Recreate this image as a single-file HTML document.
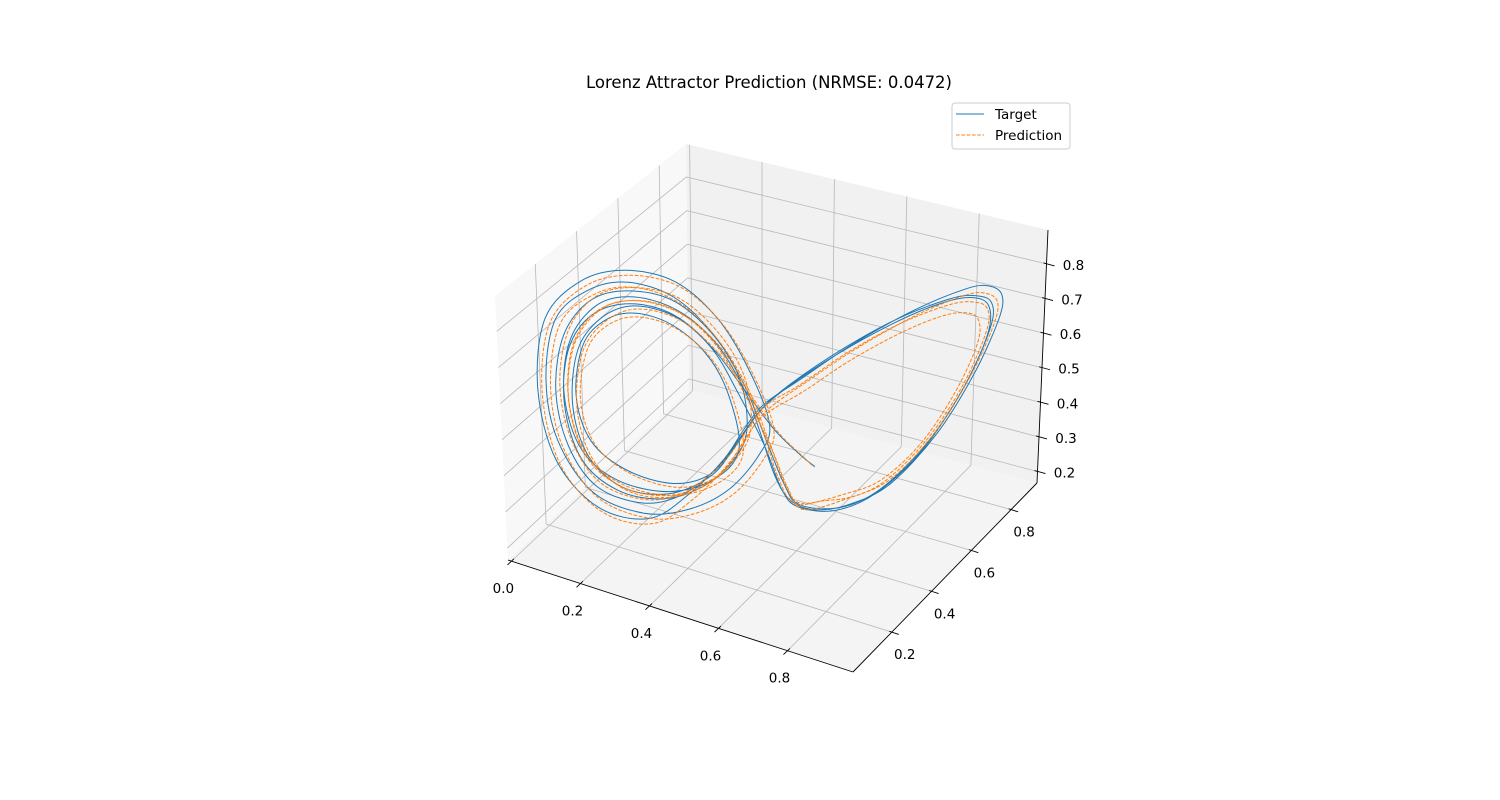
<!DOCTYPE html>
<html>
<head>
<meta charset="utf-8">
<style>
html,body{margin:0;padding:0;background:#fff;}
svg{display:block;}
text{font-family:"DejaVu Sans","Liberation Sans",sans-serif;}
</style>
</head>
<body>
<svg id="chart" width="1500" height="800" viewBox="0 0 1500 800" xmlns="http://www.w3.org/2000/svg">
  <rect x="0" y="0" width="1500" height="800" fill="#ffffff"/>
  <g id="panes"></g>
  <g id="grid"></g>
  <g id="axes"></g>
  <g id="ticks"></g>
  <g id="series"></g>
  <text x="769" y="88" font-size="16.5" text-anchor="middle" fill="#000">Lorenz Attractor Prediction (NRMSE: 0.0472)</text>
  <g>
    <rect x="952" y="103" width="118" height="46" rx="3" fill="#fff" stroke="#cccccc" stroke-width="1"/>
    <line x1="956" y1="114" x2="984" y2="114" stroke="#1f77b4" stroke-width="1"/>
    <text x="995" y="119" font-size="13.5" fill="#000">Target</text>
    <line x1="956" y1="135" x2="984" y2="135" stroke="#ff7f0e" stroke-width="1" stroke-dasharray="3.7,1.6"/>
    <text x="995" y="140" font-size="13.5" fill="#000">Prediction</text>
  </g>
</svg>
<script>
// ---- data ----
const xTicks = [0.0, 0.2, 0.4, 0.6, 0.8];
const yTicks = [0.2, 0.4, 0.6, 0.8];
const zTicks = [0.2, 0.3, 0.4, 0.5, 0.6, 0.7, 0.8];
const xTickLabels = ["0.0","0.2","0.4","0.6","0.8"];
const yTickLabels = ["0.2","0.4","0.6","0.8"];
const zTickLabels = ["0.2","0.3","0.4","0.5","0.6","0.7","0.8"];

const targetX = [0.425,0.376,0.306,0.221,0.155,0.130,0.146,0.187,0.240,0.306,0.369,0.410,0.429,0.382,0.297,0.202,0.136,0.108,0.123,0.174,0.240,0.319,0.388,0.439,0.467,0.495,0.524,
0.571,0.637,0.713,0.798,0.864,0.906,0.911,0.887,0.845,0.750,0.637,0.543,
0.476,0.439,0.401,0.335,0.259,0.164,0.089,0.060,0.079,0.146,0.227,0.316,0.391,0.448,0.486,0.467,0.410,0.335,0.250,0.155,0.093,0.076,0.098,0.161,0.231,0.312,0.382,0.439,0.476,0.514,0.543,
0.618,0.694,0.779,0.849,0.892,0.892,0.864,0.817,0.722,0.618,0.524,
0.471,0.433,0.391,0.325,0.250,0.164,0.112,0.093,0.112,0.164,0.234,0.316,0.388,0.433,0.444,0.420,0.363,0.287,0.202,0.136,0.108,0.119,0.164,0.233,0.312,0.380,0.429,0.476,0.509,0.539,
0.609,0.684,0.769,0.841,0.887,0.887,0.854,0.798,0.713,0.609,0.514,
0.463,0.425,0.376,0.297,0.212,0.149,0.123,0.136,0.180,0.240,0.316,0.382,0.439,0.495,0.543,0.571];
const targetY = [0.407,0.362,0.297,0.218,0.157,0.134,0.149,0.187,0.236,0.297,0.355,0.393,0.411,0.367,0.289,0.201,0.140,0.114,0.128,0.175,0.236,0.309,0.373,0.420,0.446,0.472,0.499,
0.542,0.603,0.674,0.752,0.813,0.852,0.857,0.834,0.796,0.708,0.603,0.516,
0.454,0.420,0.385,0.324,0.254,0.166,0.096,0.070,0.087,0.149,0.224,0.306,0.376,0.428,0.464,0.446,0.393,0.324,0.245,0.157,0.100,0.084,0.105,0.163,0.228,0.303,0.367,0.420,0.454,0.489,0.516,
0.586,0.656,0.735,0.799,0.839,0.839,0.813,0.770,0.682,0.586,0.499,
0.450,0.415,0.376,0.315,0.245,0.166,0.118,0.100,0.118,0.166,0.230,0.306,0.373,0.415,0.425,0.403,0.350,0.279,0.201,0.140,0.114,0.124,0.166,0.230,0.303,0.366,0.411,0.454,0.485,0.513,
0.577,0.647,0.725,0.792,0.834,0.834,0.804,0.752,0.674,0.577,0.489,
0.442,0.407,0.362,0.289,0.210,0.152,0.128,0.140,0.181,0.236,0.306,0.367,0.420,0.472,0.516,0.542];
const targetZ = [0.410,0.337,0.324,0.376,0.469,0.601,0.738,0.799,0.810,0.768,0.676,0.554,0.395,0.321,0.303,0.352,0.450,0.606,0.757,0.844,0.855,0.804,0.700,0.562,0.443,0.311,0.234,
0.196,0.196,0.236,0.358,0.512,0.658,0.727,0.760,0.761,0.720,0.646,0.568,
0.512,0.450,0.373,0.289,0.235,0.284,0.427,0.630,0.823,0.915,0.931,0.884,0.769,0.616,0.454,0.373,0.287,0.247,0.252,0.328,0.482,0.655,0.819,0.889,0.897,0.842,0.729,0.576,0.427,0.279,0.216,
0.191,0.225,0.334,0.487,0.641,0.711,0.737,0.739,0.703,0.636,0.558,
0.499,0.431,0.356,0.291,0.280,0.340,0.464,0.623,0.774,0.860,0.873,0.828,0.714,0.583,0.448,0.369,0.306,0.285,0.324,0.422,0.578,0.730,0.818,0.837,0.792,0.687,0.550,0.399,0.266,0.211,
0.185,0.214,0.313,0.466,0.620,0.704,0.734,0.729,0.691,0.624,0.546,
0.486,0.410,0.331,0.297,0.330,0.428,0.574,0.726,0.806,0.830,0.786,0.687,0.562,0.437,0.357,0.317];

const predX = [0.433,0.384,0.314,0.229,0.163,0.138,0.154,0.195,0.248,0.314,0.377,0.418,0.437,0.390,0.305,0.210,0.144,0.116,0.131,0.182,0.248,0.327,0.396,0.447,0.475,0.503,0.532,
0.584,0.645,0.716,0.795,0.856,0.895,0.900,0.877,0.838,0.750,0.645,0.557,
0.484,0.447,0.409,0.343,0.267,0.172,0.097,0.068,0.087,0.154,0.235,0.324,0.399,0.456,0.494,0.475,0.418,0.343,0.258,0.163,0.101,0.084,0.106,0.169,0.239,0.320,0.390,0.447,0.484,0.522,0.551,
0.627,0.698,0.777,0.842,0.882,0.882,0.856,0.812,0.724,0.627,0.540,
0.479,0.441,0.399,0.333,0.258,0.172,0.120,0.101,0.120,0.172,0.242,0.324,0.396,0.441,0.452,0.428,0.371,0.295,0.210,0.144,0.116,0.127,0.172,0.241,0.320,0.388,0.437,0.484,0.517,0.547,
0.630,0.694,0.766,0.827,0.866,0.866,0.838,0.791,0.719,0.630,0.549,
0.471,0.433,0.384,0.305,0.220,0.157,0.131,0.144,0.188,0.248,0.324,0.390,0.447,0.503,0.551,0.566];
const predY = [0.414,0.369,0.304,0.225,0.164,0.141,0.156,0.194,0.243,0.304,0.362,0.400,0.418,0.374,0.296,0.208,0.147,0.121,0.135,0.182,0.243,0.316,0.380,0.427,0.453,0.479,0.506,
0.561,0.618,0.683,0.756,0.813,0.849,0.854,0.832,0.796,0.715,0.618,0.536,
0.461,0.427,0.392,0.331,0.261,0.173,0.103,0.077,0.094,0.156,0.231,0.313,0.383,0.435,0.471,0.453,0.400,0.331,0.252,0.164,0.107,0.091,0.112,0.170,0.235,0.310,0.374,0.427,0.461,0.496,0.523,
0.601,0.667,0.740,0.800,0.837,0.837,0.813,0.772,0.691,0.601,0.521,
0.457,0.422,0.383,0.322,0.252,0.173,0.125,0.107,0.125,0.173,0.237,0.313,0.380,0.422,0.432,0.410,0.357,0.286,0.208,0.147,0.121,0.131,0.173,0.237,0.310,0.373,0.418,0.461,0.492,0.520,
0.604,0.663,0.730,0.786,0.822,0.822,0.796,0.753,0.686,0.604,0.529,
0.449,0.414,0.369,0.296,0.217,0.159,0.135,0.147,0.188,0.243,0.313,0.374,0.427,0.479,0.523,0.537];
const predZ = [0.398,0.325,0.312,0.364,0.457,0.589,0.726,0.787,0.798,0.756,0.664,0.542,0.383,0.309,0.291,0.340,0.438,0.594,0.745,0.832,0.843,0.792,0.688,0.550,0.431,0.299,0.222,
0.214,0.214,0.251,0.364,0.508,0.643,0.708,0.738,0.739,0.701,0.632,0.560,
0.497,0.435,0.358,0.274,0.220,0.269,0.412,0.615,0.808,0.900,0.916,0.869,0.754,0.601,0.439,0.358,0.272,0.232,0.237,0.313,0.467,0.640,0.804,0.874,0.882,0.827,0.714,0.561,0.412,0.264,0.201,
0.209,0.241,0.342,0.484,0.628,0.693,0.717,0.719,0.685,0.623,0.550,
0.507,0.439,0.364,0.299,0.288,0.348,0.472,0.631,0.782,0.868,0.881,0.836,0.722,0.591,0.456,0.377,0.314,0.293,0.332,0.430,0.586,0.738,0.826,0.845,0.800,0.695,0.558,0.407,0.274,0.219,
0.225,0.249,0.334,0.464,0.595,0.666,0.691,0.687,0.655,0.598,0.532,
0.476,0.400,0.321,0.287,0.320,0.418,0.564,0.716,0.796,0.820,0.776,0.677,0.552,0.427,0.347,0.322];

// ---- axes geometry (layout, not data) ----
const XMIN=-0.01, XMAX=0.99, YMIN=0.005, YMAX=0.93, ZMIN=0.167, ZMAX=0.898;
const C = {
  p000:[508,560], p100:[853,672], p110:[1037,483], p010:[689,390],
  p001:[495,296], p101:[857,392], p111:[1048,230], p011:[686,144]
};
function lerp(a,b,t){return [a[0]+(b[0]-a[0])*t, a[1]+(b[1]-a[1])*t];}
function proj(x,y,z){
  const u=(x-XMIN)/(XMAX-XMIN), v=(y-YMIN)/(YMAX-YMIN), w=(z-ZMIN)/(ZMAX-ZMIN);
  const b0=lerp(lerp(C.p000,C.p100,u), lerp(C.p010,C.p110,u), v);
  const b1=lerp(lerp(C.p001,C.p101,u), lerp(C.p011,C.p111,u), v);
  return lerp(b0,b1,w);
}
const NS="http://www.w3.org/2000/svg";
function mk(tag, attrs, parent){
  const e=document.createElementNS(NS,tag);
  for(const k in attrs) e.setAttribute(k, attrs[k]);
  parent.appendChild(e);
  return e;
}
function poly(pts){return pts.map(p=>p[0].toFixed(1)+','+p[1].toFixed(1)).join(' ');}

// panes
const panes=document.getElementById('panes');
const paneLeft=mk('polygon',{points:poly([C.p000,C.p010,C.p011,C.p001]),fill:'#f8f8f8'},panes);


const paneBack=mk('polygon',{points:poly([C.p010,C.p110,C.p111,C.p011]),fill:'#f1f1f1'},panes);


const paneFloor=mk('polygon',{points:poly([C.p000,C.p100,C.p110,C.p010]),fill:'#f4f4f4'},panes);



// grid
const grid=document.getElementById('grid');
function gline(a,b,name){
  const l=mk('line',{x1:a[0],y1:a[1],x2:b[0],y2:b[1],stroke:'#b8b8b8','stroke-width':0.8},grid);
  
  
}
xTicks.forEach(t=>{
  gline(proj(t,YMIN,ZMIN),proj(t,YMAX,ZMIN),'x-grid-floor');
  gline(proj(t,YMAX,ZMIN),proj(t,YMAX,ZMAX),'x-grid-back');
});
yTicks.forEach(t=>{
  gline(proj(XMIN,t,ZMIN),proj(XMAX,t,ZMIN),'y-grid-floor');
  gline(proj(XMIN,t,ZMIN),proj(XMIN,t,ZMAX),'y-grid-left');
});
zTicks.forEach(t=>{
  gline(proj(XMIN,YMIN,t),proj(XMIN,YMAX,t),'z-grid-left');
  gline(proj(XMIN,YMAX,t),proj(XMAX,YMAX,t),'z-grid-back');
});

// axes lines
const axes=document.getElementById('axes');
function aline(a,b,name){
  const l=mk('line',{x1:a[0],y1:a[1],x2:b[0],y2:b[1],stroke:'#000','stroke-width':0.9},axes);
  
  
}
aline(C.p000,C.p100,'x-axis-line');
aline(C.p100,C.p110,'y-axis-line');
aline(C.p110,C.p111,'z-axis-line');

// ticks & labels
const ticks=document.getElementById('ticks');
function tlabel(p,txt,name){
  const t=mk('text',{x:p[0].toFixed(1),y:p[1].toFixed(1),'font-size':13.5,'text-anchor':'middle','dominant-baseline':'central',fill:'#000'},ticks);
  
  
  t.textContent=txt;
}
xTicks.forEach((t,i)=>{
  const p=proj(t,YMIN,ZMIN);
  aline([p[0]+2.5,p[1]-2.3],[p[0]-4,p[1]+3.8],'x-tick');
  tlabel([p[0]-8,p[1]+28],xTickLabels[i],'x-tick-label');
});
yTicks.forEach((t,i)=>{
  const p=proj(XMAX,t,ZMIN);
  aline([p[0]-2.5,p[1]-0.8],[p[0]+7,p[1]+2.3],'y-tick');
  tlabel([p[0]+13,p[1]+23],yTickLabels[i],'y-tick-label');
});
zTicks.forEach((t,i)=>{
  const p=proj(XMAX,YMAX,t);
  aline([p[0]-3,p[1]-1],[p[0]+8,p[1]+2],'z-tick');
  tlabel([p[0]+27,p[1]+2],zTickLabels[i],'z-tick-label');
});

// series
function smoothPath(pts){
  let d='M'+pts[0][0].toFixed(1)+','+pts[0][1].toFixed(1);
  for(let i=0;i<pts.length-1;i++){
    const p0=pts[Math.max(0,i-1)], p1=pts[i], p2=pts[i+1], p3=pts[Math.min(pts.length-1,i+2)];
    const c1=[p1[0]+(p2[0]-p0[0])/6, p1[1]+(p2[1]-p0[1])/6];
    const c2=[p2[0]-(p3[0]-p1[0])/6, p2[1]-(p3[1]-p1[1])/6];
    d+='C'+c1[0].toFixed(1)+','+c1[1].toFixed(1)+' '+c2[0].toFixed(1)+','+c2[1].toFixed(1)+' '+p2[0].toFixed(1)+','+p2[1].toFixed(1);
  }
  return d;
}
const series=document.getElementById('series');
const tPts=targetX.map((x,i)=>proj(x,targetY[i],targetZ[i]));
const tPath=mk('path',{d:smoothPath(tPts),fill:'none',stroke:'#1f77b4','stroke-width':1,'stroke-linejoin':'round'},series);


const pPts=predX.map((x,i)=>proj(x,predY[i],predZ[i]));
const pPath=mk('path',{d:smoothPath(pPts),fill:'none',stroke:'#ff7f0e','stroke-width':1,'stroke-dasharray':'3.7,1.6'},series);


</script>
</body>
</html>
